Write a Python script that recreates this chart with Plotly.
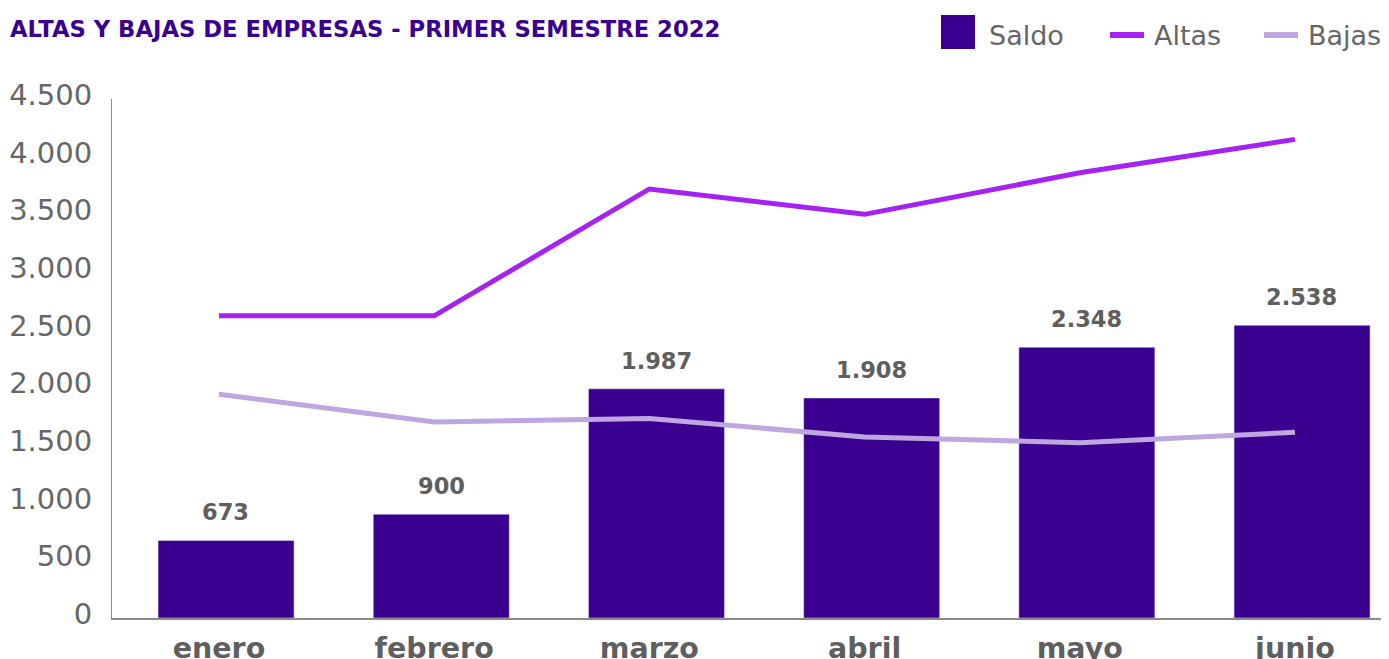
import plotly.graph_objects as go

# ---- data ----
months = ["enero", "febrero", "marzo", "abril", "mayo", "junio"]
saldo = [673, 900, 1987, 1908, 2348, 2538]
altas = [2620, 2620, 3720, 3500, 3860, 4150]
bajas = [1940, 1700, 1730, 1570, 1520, 1610]
y_ticks = [0, 500, 1000, 1500, 2000, 2500, 3000, 3500, 4000, 4500]
title_text = "ALTAS Y BAJAS DE EMPRESAS - PRIMER SEMESTRE 2022"
legend_names = ["Saldo", "Altas", "Bajas"]

# ---- style ----
W, H = 1381, 651
L, R, T, B = 104, 0, 91, 41
BAR = "#3A008F"
ALTAS_C = "#A522F4"
BAJAS_C = "#BEA6E0"
GRAY = "#666666"
LBL = "#5F5F5F"
FONT = "DejaVu Sans"


def fmt(v):
    return f"{v:,}".replace(",", ".")


def px_x(p):
    return (p - L) / (W - L - R)


def px_y(p):
    return (H - B - p) / (H - T - B)


fig = go.Figure()
fig.add_trace(go.Bar(x=months, y=saldo, name=legend_names[0], marker_color=BAR,
                     width=0.632, offset=-0.283, showlegend=False, hoverinfo="y"))
fig.add_trace(go.Scatter(x=months, y=altas, name=legend_names[1], mode="lines",
                         line=dict(color=ALTAS_C, width=5), showlegend=False))
fig.add_trace(go.Scatter(x=months, y=bajas, name=legend_names[2], mode="lines",
                         line=dict(color=BAJAS_C, width=5), showlegend=False))

annotations = []
for m, v in zip(months, saldo):
    annotations.append(dict(x=m, y=v, xref="x", yref="y", text=f"<b>{fmt(v)}</b>",
                            showarrow=False, yanchor="bottom", xanchor="center",
                            xshift=7, yshift=13,
                            font=dict(family=FONT, size=22.5, color=LBL)))

# custom legend
shapes = [
    dict(type="rect", xref="paper", yref="paper", x0=px_x(933), x1=px_x(967),
         y0=px_y(41), y1=px_y(7), fillcolor=BAR, line=dict(width=0)),
    dict(type="line", xref="paper", yref="paper", x0=px_x(1102), x1=px_x(1136),
         y0=px_y(27), y1=px_y(27), line=dict(color=ALTAS_C, width=6)),
    dict(type="line", xref="paper", yref="paper", x0=px_x(1256), x1=px_x(1290),
         y0=px_y(27), y1=px_y(27), line=dict(color=BAJAS_C, width=6)),
]
for name, xp in zip(legend_names, [979, 1144, 1298]):
    annotations.append(dict(x=px_x(xp), y=px_y(27), xref="paper", yref="paper",
                            text=name, showarrow=False, xanchor="left", yanchor="middle",
                            font=dict(family=FONT, size=27, color=GRAY)))

annotations.append(dict(x=px_x(0), y=px_y(21), xref="paper", yref="paper",
                        text=f"<b>{title_text}</b>", showarrow=False,
                        xanchor="left", yanchor="middle",
                        font=dict(family=FONT, size=22.7, color=BAR)))

fig.update_layout(
    width=W, height=H,
    margin=dict(l=L, r=R, t=T, b=B, pad=0, autoexpand=False),
    plot_bgcolor="white", paper_bgcolor="white",
    showlegend=False,
    annotations=annotations,
    shapes=shapes,
    font=dict(family=FONT, color=GRAY),
)
fig.update_xaxes(type="category", range=[-0.497, 5.437], showgrid=False, zeroline=False,
                 showline=True, linecolor="#8A8A8A", linewidth=1.5, ticks="",
                 automargin=False,
                 tickfont=dict(family=FONT, size=28.5, color=LBL, weight="bold"),
                 ticklabelstandoff=4)
fig.update_yaxes(range=[0, 4500], tickvals=y_ticks, ticktext=[fmt(v) for v in y_ticks],
                 showgrid=False, zeroline=False, showline=True, linecolor="#8A8A8A",
                 linewidth=1, ticks="", ticklabelstandoff=13, ticklabelshift=-4,
                 automargin=False,
                 tickfont=dict(family=FONT, size=29, color=GRAY))

fig.write_html("out.html")
